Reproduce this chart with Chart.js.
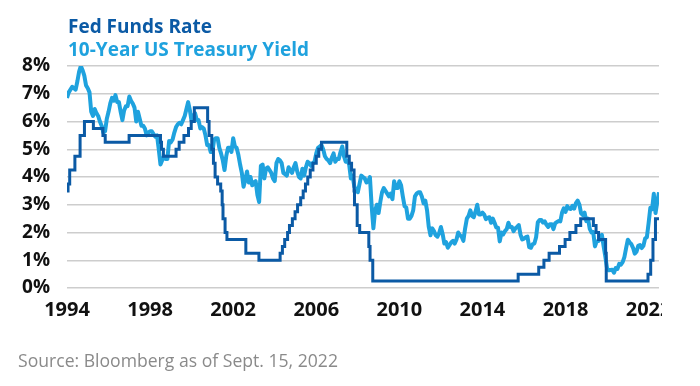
<!DOCTYPE html>
<html>
<head>
<meta charset="utf-8">
<script src="https://cdn.jsdelivr.net/npm/chart.js@4.4.0/dist/chart.umd.min.js"></script>
<style>
html,body{margin:0;padding:0;background:#fff;}
#wrap{position:relative;width:700px;height:386px;overflow:hidden;background:#fff;}
#clip{position:absolute;left:0;top:0;width:662px;height:386px;overflow:hidden;}
#c{display:block;}
.leg{position:absolute;left:68px;font-family:"Open Sans",sans-serif;font-weight:700;font-size:19px;line-height:23px;white-space:nowrap;}
#src{position:absolute;left:18px;top:350px;font-family:"Open Sans",sans-serif;font-size:17.6px;line-height:20px;color:#8a8a8a;white-space:nowrap;}
</style>
</head>
<body>
<div id="wrap">
  <div id="clip"><canvas id="c" width="700" height="386" style="width:700px;height:386px"></canvas></div>
  <div class="leg" style="top:15px;color:#0b5aa5">Fed Funds Rate</div>
  <div class="leg" style="top:38px;color:#1fa2de">10-Year US Treasury Yield</div>
  <div id="src">Source: Bloomberg as of Sept. 15, 2022</div>
</div>
<script>
// ---- Data ----
const seriesNames = ['Fed Funds Rate', '10-Year US Treasury Yield'];
const xTickLabels = ['1994', '1998', '2002', '2006', '2010', '2014', '2018', '2022'];
const yTickValues = [0, 1, 2, 3, 4, 5, 6, 7, 8];
const startDate = 1994.24;   // first observation (late March 1994), decimal year

// 10-Year US Treasury yield (%), one value per month from Mar 1994 to Sep 2022
const treasuryYield = [
  6.85, 7.05, 7.15, 7.25, 7.2, 7.15, 7.45, 7.8, 8.0, 7.85,              // 1994 Mar-Dec
  7.65, 7.3, 7.2, 7.05, 6.35, 6.2, 6.45, 6.3, 6.2, 6.0, 5.85, 5.6,      // 1995
  5.65, 6.1, 6.35, 6.65, 6.85, 6.75, 6.95, 6.7, 6.7, 6.35, 6.05, 6.4,   // 1996
  6.55, 6.55, 6.9, 6.75, 6.65, 6.5, 6.0, 6.35, 6.1, 5.85, 5.85, 5.75,   // 1997
  5.5, 5.6, 5.65, 5.65, 5.55, 5.45, 5.5, 5.0, 4.45, 4.6, 4.75, 4.65,    // 1998
  4.65, 5.3, 5.25, 5.35, 5.6, 5.8, 5.9, 5.95, 5.9, 6.05, 6.2, 6.45,     // 1999
  6.7, 6.4, 6.0, 6.2, 6.3, 6.05, 6.05, 5.75, 5.8, 5.75, 5.5, 5.15,      // 2000
  5.15, 4.9, 4.9, 5.35, 5.4, 5.4, 5.05, 4.85, 4.6, 4.25, 4.75, 5.05,    // 2001
  5.05, 4.9, 5.4, 5.1, 5.05, 4.8, 4.45, 4.15, 3.65, 3.9, 4.2, 3.8,      // 2002
  4.0, 3.7, 3.8, 3.85, 3.35, 3.1, 4.4, 4.45, 3.95, 4.3, 4.35, 4.25,     // 2003
  4.15, 3.95, 3.85, 4.5, 4.65, 4.6, 4.5, 4.15, 4.1, 4.05, 4.35, 4.25,   // 2004
  4.15, 4.35, 4.5, 4.2, 4.0, 3.95, 4.3, 4.05, 4.35, 4.55, 4.5, 4.4,     // 2005
  4.5, 4.55, 4.85, 5.05, 5.1, 5.15, 5.0, 4.75, 4.65, 4.6, 4.5, 4.7,     // 2006
  4.85, 4.55, 4.65, 4.65, 4.9, 5.1, 4.75, 4.55, 4.6, 4.45, 3.95, 4.05,  // 2007
  3.65, 3.55, 3.45, 3.75, 4.05, 4.0, 3.95, 3.8, 3.85, 4.0, 2.95, 2.15,  // 2008
  2.8, 3.0, 2.7, 3.1, 3.45, 3.6, 3.5, 3.4, 3.3, 3.4, 3.2, 3.85,         // 2009
  3.6, 3.6, 3.85, 3.7, 3.3, 2.95, 2.9, 2.5, 2.5, 2.6, 2.8, 3.3,         // 2010
  3.4, 3.45, 3.45, 3.3, 3.05, 3.15, 2.8, 2.2, 1.9, 2.15, 2.05, 1.9,     // 2011
  1.85, 1.98, 2.2, 1.95, 1.6, 1.65, 1.45, 1.55, 1.65, 1.7, 1.6, 1.75,   // 2012
  2.0, 1.9, 1.85, 1.7, 2.15, 2.5, 2.6, 2.8, 2.6, 2.55, 2.75, 3.0,       // 2013
  2.65, 2.65, 2.72, 2.65, 2.48, 2.53, 2.55, 2.35, 2.5, 2.35, 2.18, 2.17,// 2014
  1.68, 2.0, 1.93, 2.05, 2.12, 2.35, 2.2, 2.2, 2.05, 2.15, 2.2, 2.27,   // 2015
  1.92, 1.75, 1.78, 1.83, 1.85, 1.47, 1.45, 1.58, 1.6, 1.83, 2.37, 2.45,// 2016
  2.45, 2.36, 2.4, 2.28, 2.2, 2.3, 2.3, 2.12, 2.33, 2.38, 2.41, 2.4,    // 2017
  2.72, 2.87, 2.74, 2.95, 2.86, 2.85, 2.96, 2.86, 3.06, 3.15, 3.01, 2.69,// 2018
  2.63, 2.72, 2.41, 2.5, 2.13, 2.0, 2.02, 1.5, 1.68, 1.69, 1.78, 1.92,  // 2019
  1.51, 1.13, 0.7, 0.64, 0.65, 0.66, 0.55, 0.72, 0.69, 0.87, 0.84, 0.93,// 2020
  1.11, 1.44, 1.74, 1.65, 1.58, 1.45, 1.24, 1.31, 1.52, 1.55, 1.44, 1.52,// 2021
  1.79, 1.83, 2.34, 2.89, 2.84, 3.4, 2.7, 3.1, 3.45                     // 2022 Jan-Sep
];

// Fed funds target rate (%, upper bound): dates of changes (decimal year) and new levels
const fedChangeDates = [
  1994.24, 1994.29, 1994.37, 1994.62, 1994.87, 1995.08, 1995.51, 1995.97, 1996.08,
  1997.23, 1998.74, 1998.79, 1998.88, 1999.49, 1999.64, 1999.87, 2000.09, 2000.22, 2000.37,
  2001.01, 2001.08, 2001.21, 2001.29, 2001.37, 2001.49, 2001.64, 2001.71, 2001.75, 2001.85, 2001.94,
  2002.85, 2003.48, 2004.50, 2004.61, 2004.72, 2004.86, 2004.95,
  2005.09, 2005.22, 2005.34, 2005.49, 2005.61, 2005.72, 2005.83, 2005.95,
  2006.08, 2006.24, 2006.36, 2006.49, 2007.71, 2007.83, 2007.94,
  2008.06, 2008.08, 2008.21, 2008.33, 2008.77, 2008.83, 2008.96,
  2015.96, 2016.95, 2017.20, 2017.45, 2017.95, 2018.22, 2018.45, 2018.74, 2018.97,
  2019.58, 2019.71, 2019.83, 2020.17, 2020.20,
  2022.21, 2022.34, 2022.45, 2022.57
];
const fedRates = [
  3.5, 3.75, 4.25, 4.75, 5.5, 6.0, 5.75, 5.5, 5.25,
  5.5, 5.25, 5.0, 4.75, 5.0, 5.25, 5.5, 5.75, 6.0, 6.5,
  6.0, 5.5, 5.0, 4.5, 4.0, 3.75, 3.5, 3.0, 2.5, 2.0, 1.75,
  1.25, 1.0, 1.25, 1.5, 1.75, 2.0, 2.25,
  2.5, 2.75, 3.0, 3.25, 3.5, 3.75, 4.0, 4.25,
  4.5, 4.75, 5.0, 5.25, 4.75, 4.5, 4.25,
  3.5, 3.0, 2.25, 2.0, 1.5, 1.0, 0.25,
  0.5, 0.75, 1.0, 1.25, 1.5, 1.75, 2.0, 2.25, 2.5,
  2.25, 2.0, 1.75, 1.25, 0.25,
  0.5, 1.0, 1.75, 2.5
];

const colors = { fed: '#0b5aa5', tsy: '#1fa2de', grid: '#cdcdcd', tick: '#111111' };

// ---- Build chart ----
const tsyPoints = treasuryYield.map((v, i) => ({ x: startDate + i / 12, y: v }));
const endDate = tsyPoints[tsyPoints.length - 1].x;
const fedPoints = fedChangeDates.map((d, i) => ({ x: d, y: fedRates[i] }));
fedPoints.push({ x: endDate, y: fedRates[fedRates.length - 1] });

const yFont = { family: 'Open Sans', weight: 'bold', size: 19 };
const xFont = { family: 'Open Sans', weight: 'bold', size: 20 };

function draw() {
  new Chart(document.getElementById('c'), {
    type: 'line',
    data: {
      datasets: [
        { label: seriesNames[0], data: fedPoints, borderColor: colors.fed, borderWidth: 3,
          stepped: true, pointRadius: 0, fill: false },
        { label: seriesNames[1], data: tsyPoints, borderColor: colors.tsy, borderWidth: 4,
          pointRadius: 0, fill: false, tension: 0, borderJoinStyle: 'round' }
      ]
    },
    options: {
      responsive: false,
      animation: false,
      events: [],
      layout: { padding: { top: 66, right: 41, left: 0, bottom: 0 } },
      plugins: { legend: { display: false }, tooltip: { enabled: false }, title: { display: false } },
      scales: {
        x: {
          type: 'linear',
          min: startDate,
          max: endDate,
          grid: { display: false, drawTicks: false },
          border: { display: false },
          afterBuildTicks: s => { s.ticks = xTickLabels.map((l, i) => ({ value: startDate + 4 * i })); },
          afterFit: s => { s.height = 98; },
          ticks: { autoSkip: false, maxRotation: 0, minRotation: 0, padding: 10, color: colors.tick,
                   font: xFont, callback: (v, i) => xTickLabels[i] }
        },
        y: {
          min: yTickValues[0],
          max: yTickValues[yTickValues.length - 1],
          afterFit: s => { s.width = 67; },
          grid: { color: colors.grid, lineWidth: 1.5, drawTicks: false },
          border: { display: false },
          ticks: { stepSize: 1, padding: 17, color: colors.tick, font: yFont,
                   callback: v => v + '%' }
        }
      }
    }
  });
}

if (document.fonts && document.fonts.load) {
  Promise.all([
    document.fonts.load('700 19px "Open Sans"'),
    document.fonts.load('400 17px "Open Sans"')
  ]).then(draw, draw);
} else {
  draw();
}
</script>
</body>
</html>
